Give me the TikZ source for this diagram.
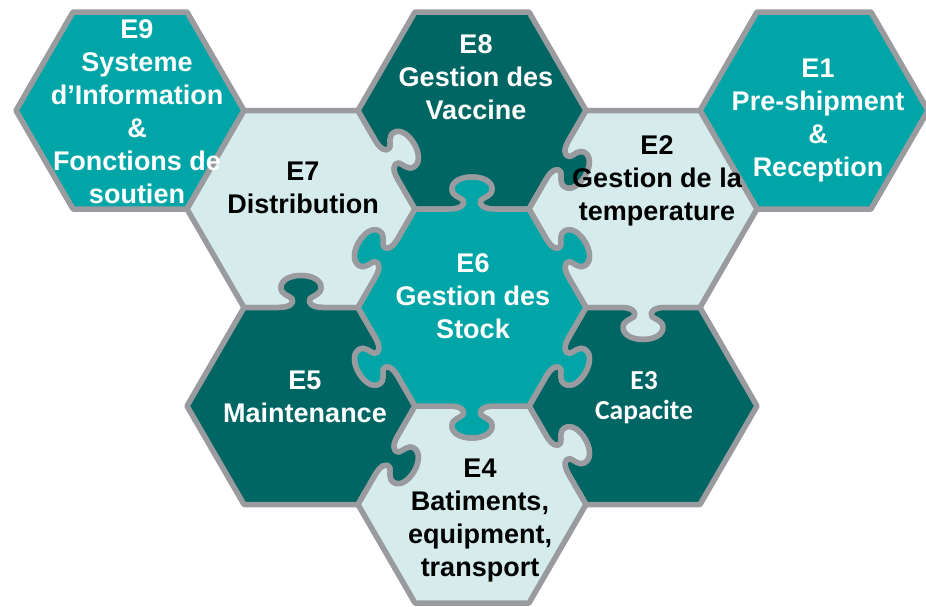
\documentclass[tikz,border=0pt]{standalone}
\usepackage{fontspec}
\setmainfont{Liberation Sans}
\newfontfamily\calib{Carlito}
\usetikzlibrary{calc}
\definecolor{cteal}{HTML}{00A6A7}
\definecolor{cdark}{HTML}{006664}
\definecolor{clight}{HTML}{D6ECEC}
\definecolor{cgray}{HTML}{999B9E}
\newcommand\hexpts[3]{%
  \coordinate (#1tl) at ({#2-57},{#3-98.5});
  \coordinate (#1tr) at ({#2+57},{#3-98.5});
  \coordinate (#1r)  at ({#2+114},{#3});
  \coordinate (#1br) at ({#2+57},{#3+98.5});
  \coordinate (#1bl) at ({#2-57},{#3+98.5});
  \coordinate (#1l)  at ({#2-114},{#3});
}
\tikzset{
  knob/.style={to path={
    -- ($(\tikztostart)!.5!(\tikztotarget)!-22pt!(\tikztotarget)!0pt!#1:(\tikztotarget)$)
    .. controls ($(\tikztostart)!.5!(\tikztotarget)!-12pt!(\tikztotarget)!0pt!#1:(\tikztotarget)$)
    and ($(\tikztostart)!.5!(\tikztotarget)!-6pt!(\tikztotarget)!4pt!#1:(\tikztotarget)$)
    .. ($(\tikztostart)!.5!(\tikztotarget)!-9pt!(\tikztotarget)!9pt!#1:(\tikztotarget)$)
    .. controls ($(\tikztostart)!.5!(\tikztotarget)!-12pt!(\tikztotarget)!12pt!#1:(\tikztotarget)$)
    and ($(\tikztostart)!.5!(\tikztotarget)!-20pt!(\tikztotarget)!13pt!#1:(\tikztotarget)$)
    .. ($(\tikztostart)!.5!(\tikztotarget)!-20pt!(\tikztotarget)!20pt!#1:(\tikztotarget)$)
    .. controls ($(\tikztostart)!.5!(\tikztotarget)!-20pt!(\tikztotarget)!28pt!#1:(\tikztotarget)$)
    and ($(\tikztostart)!.5!(\tikztotarget)!-10pt!(\tikztotarget)!32pt!#1:(\tikztotarget)$)
    .. ($(\tikztostart)!.5!(\tikztotarget)!0pt!(\tikztotarget)!32pt!#1:(\tikztotarget)$)
    .. controls ($(\tikztostart)!.5!(\tikztotarget)!10pt!(\tikztotarget)!32pt!#1:(\tikztotarget)$)
    and ($(\tikztostart)!.5!(\tikztotarget)!20pt!(\tikztotarget)!28pt!#1:(\tikztotarget)$)
    .. ($(\tikztostart)!.5!(\tikztotarget)!20pt!(\tikztotarget)!20pt!#1:(\tikztotarget)$)
    .. controls ($(\tikztostart)!.5!(\tikztotarget)!20pt!(\tikztotarget)!13pt!#1:(\tikztotarget)$)
    and ($(\tikztostart)!.5!(\tikztotarget)!12pt!(\tikztotarget)!12pt!#1:(\tikztotarget)$)
    .. ($(\tikztostart)!.5!(\tikztotarget)!9pt!(\tikztotarget)!9pt!#1:(\tikztotarget)$)
    .. controls ($(\tikztostart)!.5!(\tikztotarget)!6pt!(\tikztotarget)!4pt!#1:(\tikztotarget)$)
    and ($(\tikztostart)!.5!(\tikztotarget)!12pt!(\tikztotarget)!0pt!#1:(\tikztotarget)$)
    .. ($(\tikztostart)!.5!(\tikztotarget)!22pt!(\tikztotarget)!0pt!#1:(\tikztotarget)$)
    -- (\tikztotarget)}},
  kout/.style={knob=90},
  kin/.style={knob=-90},
  piece/.style={fill=#1, draw=cgray, line width=5.5pt, line join=round},
  lbl/.style={align=center, font=\fontsize{27}{33}\selectfont\bfseries, inner sep=0pt},
  lblc/.style={align=center, font=\calib\fontsize{27.5}{30}\selectfont\bfseries, inner sep=0pt},
}
\begin{document}
\begin{tikzpicture}[x=1pt,y=-1pt]
\useasboundingbox (0,0) rectangle (926,606);
\hexpts{E9}{130}{110.5}
\hexpts{E8}{472}{110.5}
\hexpts{E1}{814}{110.5}
\hexpts{E7}{301}{209}
\hexpts{E2}{643}{209}
\hexpts{E6}{472}{307.5}
\hexpts{E5}{301}{406}
\hexpts{E3}{643}{406}
\hexpts{E4}{472}{504.5}
% plain pieces
\path[piece=cteal] (E9tl) -- (E9tr) -- (E9r) -- (E9br) -- (E9bl) -- (E9l) -- cycle;
\path[piece=cteal] (E1tl) -- (E1tr) -- (E1r) -- (E1br) -- (E1bl) -- (E1l) -- cycle;
% puzzle pieces
\path[piece=clight] (E7tl) -- (E7tr) to[kout] (E7r) to[kin] (E7br) to[kin] (E7bl) -- (E7l) -- cycle;
\path[piece=cdark] (E8tl) -- (E8tr) -- (E8r) to[kout] (E8br) to[kin] (E8bl) to[kin] (E8l) -- cycle;
\path[piece=clight] (E2tl) -- (E2tr) -- (E2r) -- (E2br) to[kout] (E2bl) to[kin] (E2l) to[kin] (E2tl) -- cycle;
\path[piece=cdark] (E5tl) to[kout] (E5tr) to[kin] (E5r) to[kout] (E5br) -- (E5bl) -- (E5l) -- cycle;
\path[piece=cdark] (E3tl) to[kin] (E3tr) -- (E3r) -- (E3br) -- (E3bl) to[kin] (E3l) to[kin] (E3tl) -- cycle;
\path[piece=clight] (E4tl) to[kin] (E4tr) to[kout] (E4r) -- (E4br) -- (E4bl) -- (E4l) to[kin] (E4tl) -- cycle;
\path[piece=cteal] (E6tl) to[kout] (E6tr) to[kout] (E6r) to[kout] (E6br) to[kout] (E6bl) to[kout] (E6l) to[kout] (E6tl) -- cycle;
% labels
\node[lbl, text=white] (t9) at (137,111.5) {E9\\Systeme\\d’Information\\\&\\Fonctions de\\soutien};
\node[lbl, text=white] (t8) at (476,77.5) {E8\\Gestion des\\Vaccine};
\node[lbl, text=white] (t1) at (818,121) {E1\\Pre-shipment\\\&\\Reception};
\node[lbl, text=black] (t7) at (303,188) {E7\\Distribution};
\node[lbl, text=black] (t2) at (657,181) {E2\\Gestion de la\\temperature};
\node[lbl, text=white] (t6) at (473,296.5) {E6\\Gestion des\\Stock};
\node[lbl, text=white] (t5) at (305,396.5) {E5\\Maintenance};
\node[lblc, text=white] (t3) at (644,397.5) {E3\\Capacite};
\node[lbl, text=black] (t4) at (480,521) {E4\\Batiments,\\equipment,\\transport};
\end{tikzpicture}
\end{document}
